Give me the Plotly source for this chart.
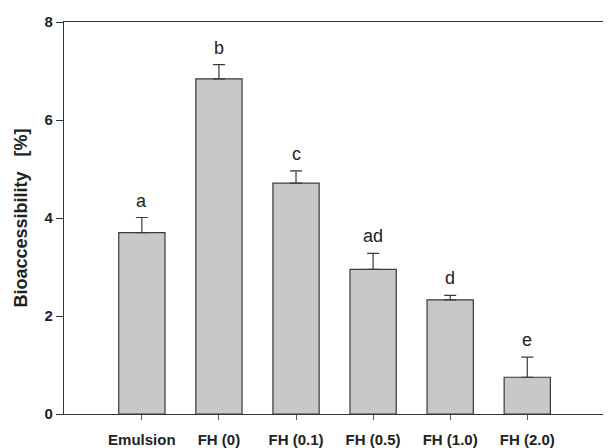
import plotly.graph_objects as go

categories = ["Emulsion", "FH (0)", "FH (0.1)", "FH (0.5)", "FH (1.0)", "FH (2.0)"]
values = [3.70, 6.84, 4.71, 2.95, 2.33, 0.75]
errors = [0.31, 0.29, 0.25, 0.33, 0.09, 0.41]
letters = ["a", "b", "c", "ad", "d", "e"]
y_ticks = [0, 2, 4, 6, 8]

x_idx = list(range(len(categories)))
FONT = "Liberation Sans, Arial, sans-serif"

fig = go.Figure()
fig.add_trace(go.Bar(
    x=x_idx, y=values, width=0.6,
    marker=dict(color="#c8c8c9", line=dict(color="#3a3a3a", width=1.2)),
    error_y=dict(type="data", array=errors, arrayminus=[0]*len(errors), symmetric=False,
                 color="#3a3a3a", thickness=1.2, width=6),
    showlegend=False,
))

for i, (v, e, t) in enumerate(zip(values, errors, letters)):
    fig.add_annotation(x=i, y=v + e, text=t, showarrow=False, yanchor="bottom", yshift=5,
                       font=dict(family=FONT, size=18, color="#222"))

fig.update_layout(
    width=611, height=448,
    margin=dict(l=56, r=0, t=14, b=42),
    plot_bgcolor="white", paper_bgcolor="white",
    font=dict(family=FONT, color="#222"),
    xaxis=dict(
        range=[-1.01, 6.19], tickmode="array", tickvals=x_idx,
        ticktext=["<b>%s</b>" % c for c in categories],
        tickfont=dict(size=15), ticks="outside", ticklen=5, tickcolor="#555",
        ticklabelstandoff=7,
        showline=True, linecolor="#333", linewidth=1.2, mirror=True,
        showgrid=False, zeroline=False, automargin=False,
    ),
    yaxis=dict(
        range=[0, 8], tickmode="array", tickvals=y_ticks,
        ticktext=["<b>%d</b>" % t for t in y_ticks],
        tickfont=dict(size=15), ticks="outside", ticklen=7, tickcolor="#333",
        showline=True, linecolor="#333", linewidth=1.2,
        showgrid=False, zeroline=False, automargin=False,
        title=dict(text="<b>Bioaccessibility&nbsp;&nbsp;&nbsp;[%]</b>", font=dict(size=18), standoff=12),
    ),
)

fig.write_html("out.html")
